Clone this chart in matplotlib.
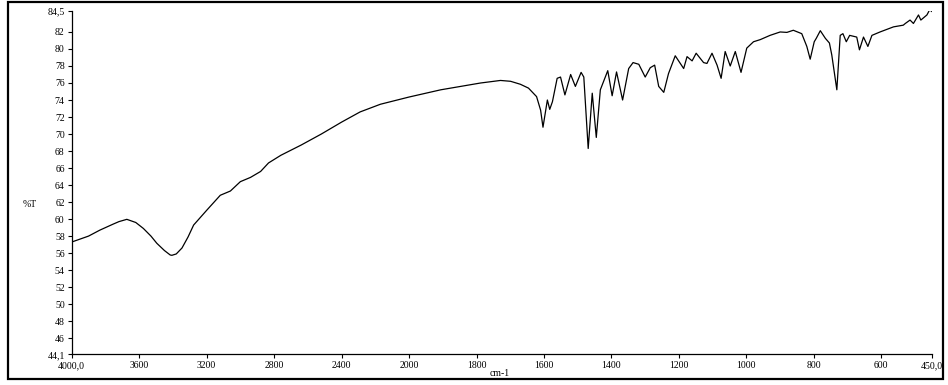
import matplotlib
matplotlib.use("Agg")
import matplotlib.pyplot as plt
from matplotlib.patches import Rectangle
import numpy as np

# IR spectrum: wavenumber (cm-1) and transmittance (%T)
wavenumber = [
    4000, 3900, 3833, 3755, 3720, 3673, 3620, 3575, 3530, 3495, 3450, 3416,
    3406, 3380, 3346, 3310, 3277, 3198, 3119, 3059, 3000, 2940, 2880, 2833,
    2760, 2640, 2520, 2400, 2290, 2170, 2000,
    1906, 1847, 1788, 1729, 1699, 1670, 1646, 1622, 1610, 1603, 1590, 1583,
    1575, 1561, 1551, 1538, 1521, 1507, 1490, 1482, 1469, 1457, 1445, 1433,
    1411, 1398, 1385, 1367, 1349, 1336, 1319, 1300, 1285, 1272, 1260, 1245,
    1231, 1211, 1186, 1176, 1161, 1149, 1127, 1117, 1102, 1087, 1075, 1063,
    1048, 1033, 1016, 999, 979, 959, 930, 900, 880, 861, 836, 821, 811, 799,
    793, 781, 766, 754, 747, 732, 722, 714, 704, 694, 673, 665, 653, 640,
    628, 604, 564, 535, 529, 515, 505, 490, 483, 465, 457, 450,
]
transmittance = [
    57.3, 58.0, 58.7, 59.4, 59.7, 59.97, 59.6, 58.9, 58.0, 57.15, 56.3, 55.78,
    55.74, 55.9, 56.6, 57.9, 59.3, 61.07, 62.8, 63.3, 64.4, 64.9, 65.6, 66.6,
    67.5, 68.7, 70.0, 71.4, 72.6, 73.5, 74.35,
    75.2, 75.6, 76.0, 76.3, 76.2, 75.85, 75.4, 74.4, 72.8, 70.8, 74.0, 72.9,
    73.8, 76.55, 76.7, 74.6, 77.0, 75.6, 77.25, 76.7, 68.3, 74.8, 69.6, 75.2,
    77.45, 74.5, 77.3, 74.0, 77.7, 78.4, 78.2, 76.7, 77.8, 78.1, 75.6, 74.9,
    77.1, 79.2, 77.7, 79.1, 78.6, 79.5, 78.4, 78.3, 79.5, 78.1, 76.55, 79.7,
    78.0, 79.7, 77.25, 80.1, 80.85, 81.1, 81.6, 82.0, 81.95, 82.2, 81.8, 80.3,
    78.8, 80.85, 81.25, 82.15, 81.25, 80.7, 79.3, 75.2, 81.6, 81.8, 80.85,
    81.6, 81.4, 79.9, 81.4, 80.3, 81.6, 82.0, 82.6, 82.8, 83.0, 83.4, 83.0,
    84.0, 83.4, 84.0, 84.6, 84.4,
]

x_ticks = [4000, 3600, 3200, 2800, 2400, 2000, 1800, 1600, 1400, 1200,
           1000, 800, 600, 450]
x_tick_labels = ["4000,0", "3600", "3200", "2800", "2400", "2000", "1800",
                 "1600", "1400", "1200", "1000", "800", "600", "450,0"]
y_ticks = [44.1, 46, 48, 50, 52, 54, 56, 58, 60, 62, 64, 66, 68, 70, 72,
           74, 76, 78, 80, 82, 84.5]
y_tick_labels = ["44,1", "46", "48", "50", "52", "54", "56", "58", "60",
                 "62", "64", "66", "68", "70", "72", "74", "76", "78", "80",
                 "82", "84,5"]


# Wavenumber axis compressed by a factor of two above 2000 cm-1
def forward(x):
    x = np.asarray(x, dtype=float)
    return np.where(x > 2000, 2000 + (x - 2000) / 2.0, x)


def inverse(u):
    u = np.asarray(u, dtype=float)
    return np.where(u > 2000, 2000 + (u - 2000) * 2.0, u)


plt.rcParams["font.family"] = ["Liberation Serif", "DejaVu Serif"]
fs = 7

fig = plt.figure(figsize=(9.48, 3.85), dpi=100)
ax = fig.add_axes([0.0756, 0.0797, 0.9075, 0.8925])
ax.set_xscale("function", functions=(forward, inverse))
ax.plot(wavenumber, transmittance, color="black", lw=0.9)

ax.set_xlim(4000, 450)
ax.set_ylim(44.1, 84.5)
ax.set_xticks(x_ticks)
ax.set_xticklabels(x_tick_labels, fontsize=fs)
ax.set_yticks(y_ticks)
ax.set_yticklabels(y_tick_labels, fontsize=fs)
ax.xaxis.set_minor_locator(matplotlib.ticker.NullLocator())
ax.tick_params(axis="both", direction="out", length=3, width=0.8, pad=2,
               colors="black")
for side in ("top", "right"):
    ax.spines[side].set_visible(False)
for side in ("left", "bottom"):
    ax.spines[side].set_linewidth(0.9)

fig.text(30 / 948, 1 - 205 / 385, "%T", fontsize=fs, ha="center", va="center")
fig.text(500 / 948, 1 - 374 / 385, "cm-1", fontsize=fs, ha="center", va="center")

# Outer frame around the whole plot
fig.add_artist(Rectangle((7.5 / 948, 6 / 385), 935 / 948, 377 / 385,
                         transform=fig.transFigure, fill=False,
                         edgecolor="black", lw=1.6))

fig.savefig("out.png", dpi=100)
